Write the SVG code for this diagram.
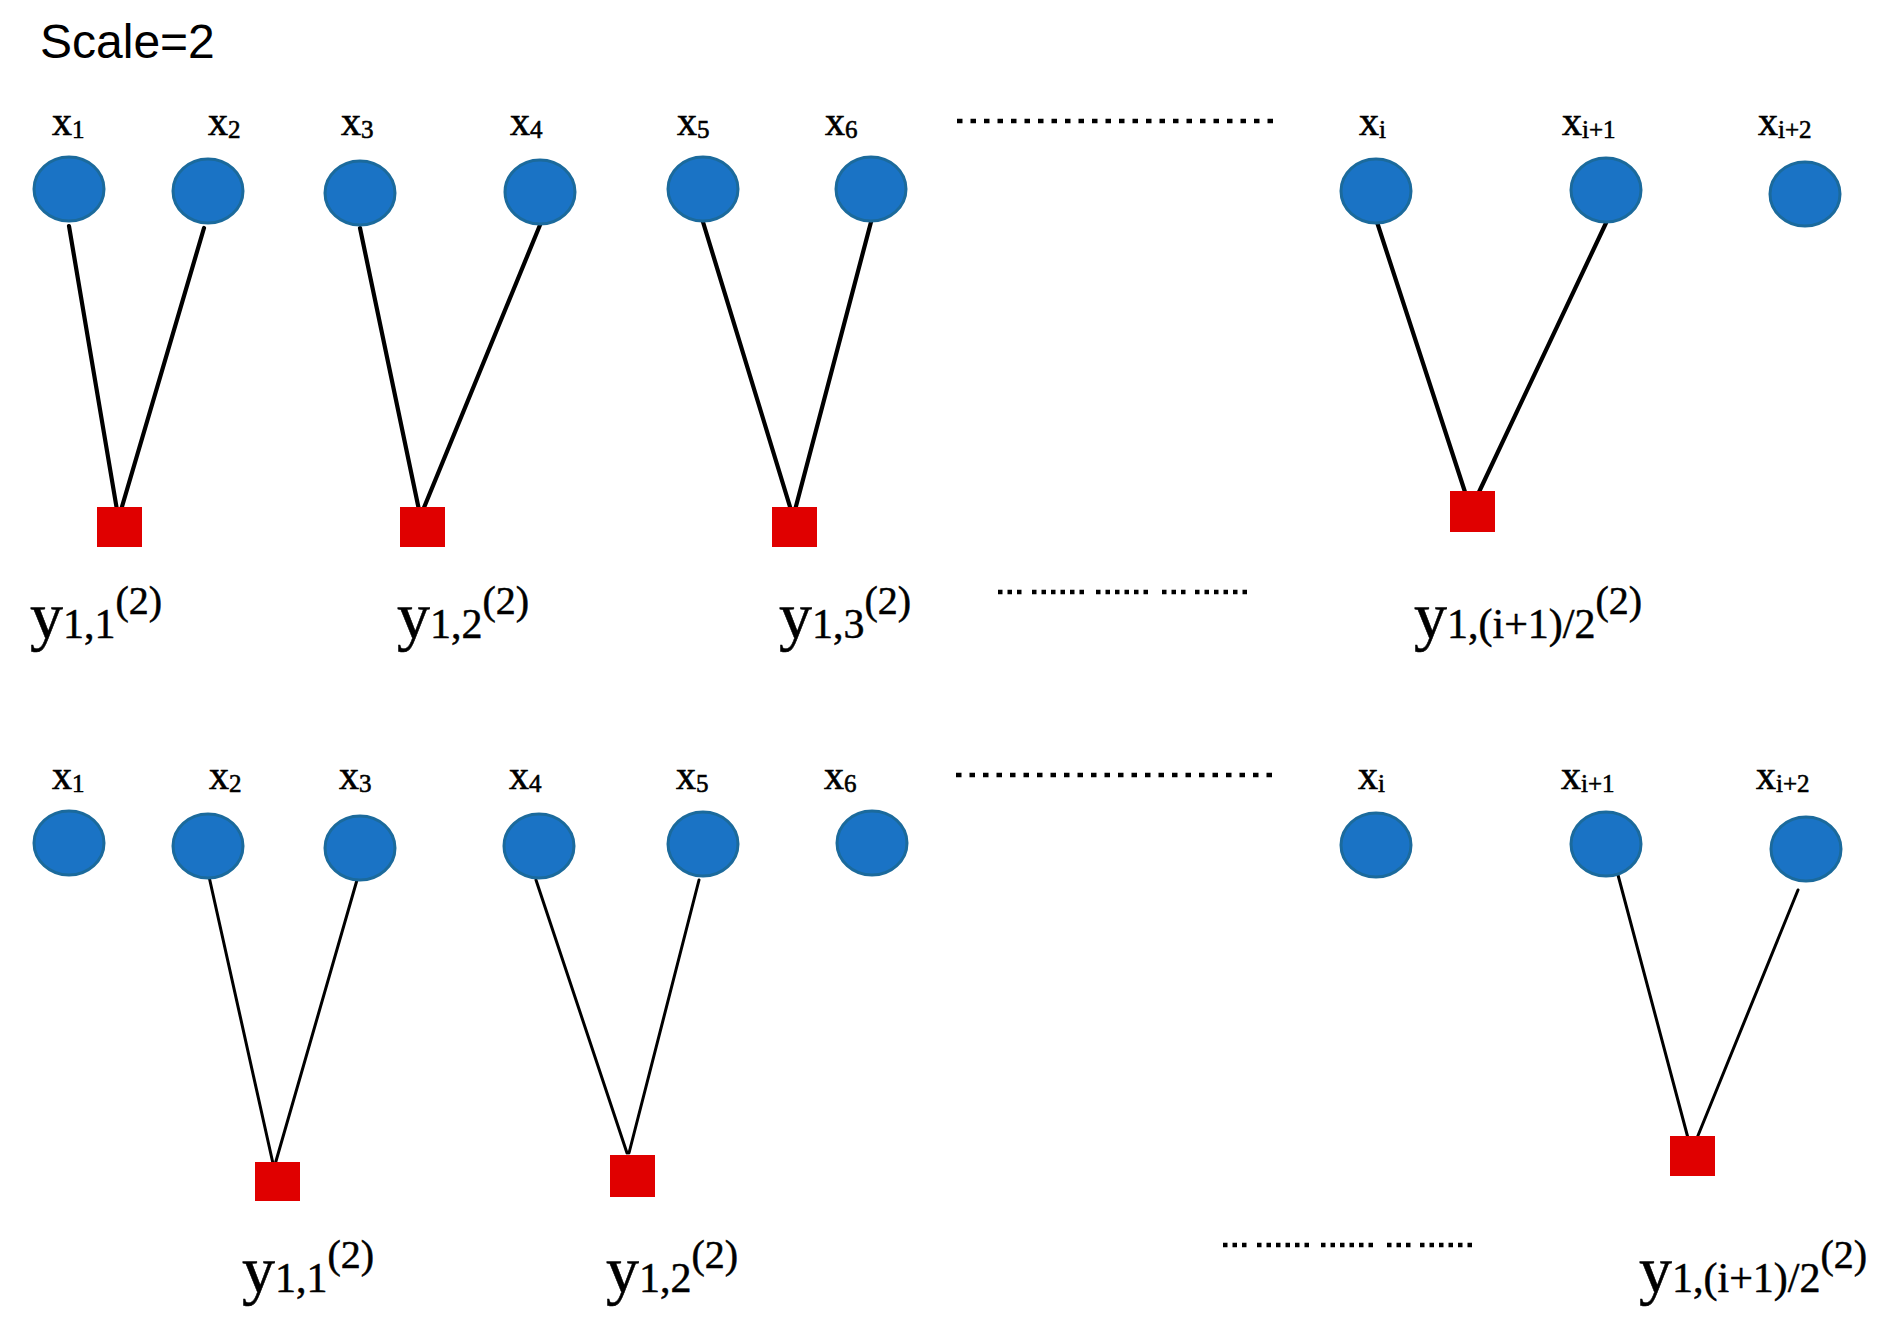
<svg xmlns="http://www.w3.org/2000/svg" width="1885" height="1330" viewBox="0 0 1885 1330">
<style>
.bg{fill:#ffffff}
.node{fill:#1a73c5;stroke:#1b6a9c;stroke-width:3}
.sq{fill:#e00000}
.e1{stroke:#000;stroke-width:4.2;fill:none;stroke-linecap:round}
.e2{stroke:#000;stroke-width:3;fill:none;stroke-linecap:round}
.dots{stroke:#000;stroke-width:4.5;stroke-dasharray:5.5 8;fill:none}
.dots2{stroke:#000;stroke-width:4.5;stroke-dasharray:4.5 5;fill:none}
.title{font-family:"Liberation Sans",Arial,sans-serif;font-size:48px;fill:#000}
.xl{font-family:"Liberation Serif","Times New Roman",serif;font-size:40px;fill:#000;stroke:#000;stroke-width:0.6}
.sub{font-size:25px}
.yl{font-family:"Liberation Serif","Times New Roman",serif;font-size:66px;fill:#000;stroke:#000;stroke-width:0.5}
.ys{font-size:42px}
.sup{font-size:40px}
</style>
<defs>
<g id="ell">
<line class="dots2" x1="0" y1="0" x2="24" y2="0"/>
<line class="dots2" x1="34" y1="0" x2="90" y2="0"/>
<line class="dots2" x1="98" y1="0" x2="155" y2="0"/>
<line class="dots2" x1="164" y1="0" x2="188" y2="0"/>
<line class="dots2" x1="197" y1="0" x2="251" y2="0"/>
</g>
</defs>
<rect class="bg" x="0" y="0" width="1885" height="1330"/>
<text class="title" x="40" y="58">Scale=2</text>

<g id="connectors">
<line class="e1" x1="69" y1="226" x2="117" y2="510"/>
<line class="e1" x1="204" y1="228" x2="121" y2="510"/>
<line class="e1" x1="360" y1="228" x2="419" y2="510"/>
<line class="e1" x1="540" y1="225" x2="423" y2="510"/>
<line class="e1" x1="703" y1="222" x2="791" y2="510"/>
<line class="e1" x1="871" y1="222" x2="795" y2="510"/>
<line class="e1" x1="1376" y1="219" x2="1465" y2="492"/>
<line class="e1" x1="1606" y1="223" x2="1479" y2="492"/>
<line class="e2" x1="208" y1="872" x2="274" y2="1168"/>
<line class="e2" x1="357" y1="880" x2="274" y2="1168"/>
<line class="e2" x1="536" y1="880" x2="627" y2="1153"/>
<line class="e2" x1="699" y1="880" x2="629" y2="1153"/>
<line class="e2" x1="1618" y1="875" x2="1688" y2="1138"/>
<line class="e2" x1="1798" y1="890" x2="1697" y2="1138"/>
</g>

<g id="row1-inputs">
<g id="r1x1"><ellipse class="node" cx="69" cy="189" rx="35" ry="32"/><text class="xl" x="52" y="135">x<tspan class="sub" dy="3">1</tspan></text></g>
<g id="r1x2"><ellipse class="node" cx="208" cy="191" rx="35" ry="32"/><text class="xl" x="208" y="135">x<tspan class="sub" dy="3">2</tspan></text></g>
<g id="r1x3"><ellipse class="node" cx="360" cy="193" rx="35" ry="32"/><text class="xl" x="341" y="135">x<tspan class="sub" dy="3">3</tspan></text></g>
<g id="r1x4"><ellipse class="node" cx="540" cy="192" rx="35" ry="32"/><text class="xl" x="510" y="135">x<tspan class="sub" dy="3">4</tspan></text></g>
<g id="r1x5"><ellipse class="node" cx="703" cy="189" rx="35" ry="32"/><text class="xl" x="677" y="135">x<tspan class="sub" dy="3">5</tspan></text></g>
<g id="r1x6"><ellipse class="node" cx="871" cy="189" rx="35" ry="32"/><text class="xl" x="825" y="135">x<tspan class="sub" dy="3">6</tspan></text></g>
<g id="r1xi"><ellipse class="node" cx="1376" cy="191" rx="35" ry="32"/><text class="xl" x="1359" y="135">x<tspan class="sub" dy="3">i</tspan></text></g>
<g id="r1xi1"><ellipse class="node" cx="1606" cy="190" rx="35" ry="32"/><text class="xl" x="1562" y="135">x<tspan class="sub" dy="3">i+1</tspan></text></g>
<g id="r1xi2"><ellipse class="node" cx="1805" cy="194" rx="35" ry="32"/><text class="xl" x="1758" y="135">x<tspan class="sub" dy="3">i+2</tspan></text></g>
</g>

<g id="row1-dots"><line class="dots" x1="957" y1="121" x2="1274" y2="121"/><use href="#ell" x="998" y="592"/></g>

<g id="row1-outputs">
<g id="r1y1"><rect class="sq" x="97" y="507" width="45" height="40"/><text class="yl" x="30" y="638">y<tspan class="ys">1,1</tspan><tspan class="sup" dy="-24">(2)</tspan></text></g>
<g id="r1y2"><rect class="sq" x="400" y="507" width="45" height="40"/><text class="yl" x="397" y="638">y<tspan class="ys">1,2</tspan><tspan class="sup" dy="-24">(2)</tspan></text></g>
<g id="r1y3"><rect class="sq" x="772" y="507" width="45" height="40"/><text class="yl" x="779" y="638">y<tspan class="ys">1,3</tspan><tspan class="sup" dy="-24">(2)</tspan></text></g>
<g id="r1yn"><rect class="sq" x="1450" y="491" width="45" height="41"/><text class="yl" x="1414" y="638">y<tspan class="ys">1,(i+1)/2</tspan><tspan class="sup" dy="-24">(2)</tspan></text></g>
</g>

<g id="row2-inputs">
<g id="r2x1"><ellipse class="node" cx="69" cy="843" rx="35" ry="32"/><text class="xl" x="52" y="789">x<tspan class="sub" dy="3">1</tspan></text></g>
<g id="r2x2"><ellipse class="node" cx="208" cy="846" rx="35" ry="32"/><text class="xl" x="209" y="789">x<tspan class="sub" dy="3">2</tspan></text></g>
<g id="r2x3"><ellipse class="node" cx="360" cy="848" rx="35" ry="32"/><text class="xl" x="339" y="789">x<tspan class="sub" dy="3">3</tspan></text></g>
<g id="r2x4"><ellipse class="node" cx="539" cy="846" rx="35" ry="32"/><text class="xl" x="509" y="789">x<tspan class="sub" dy="3">4</tspan></text></g>
<g id="r2x5"><ellipse class="node" cx="703" cy="844" rx="35" ry="32"/><text class="xl" x="676" y="789">x<tspan class="sub" dy="3">5</tspan></text></g>
<g id="r2x6"><ellipse class="node" cx="872" cy="843" rx="35" ry="32"/><text class="xl" x="824" y="789">x<tspan class="sub" dy="3">6</tspan></text></g>
<g id="r2xi"><ellipse class="node" cx="1376" cy="845" rx="35" ry="32"/><text class="xl" x="1358" y="789">x<tspan class="sub" dy="3">i</tspan></text></g>
<g id="r2xi1"><ellipse class="node" cx="1606" cy="844" rx="35" ry="32"/><text class="xl" x="1561" y="789">x<tspan class="sub" dy="3">i+1</tspan></text></g>
<g id="r2xi2"><ellipse class="node" cx="1806" cy="849" rx="35" ry="32"/><text class="xl" x="1756" y="789">x<tspan class="sub" dy="3">i+2</tspan></text></g>
</g>

<g id="row2-dots"><line class="dots" x1="956" y1="775" x2="1275" y2="775"/><use href="#ell" x="1223" y="1245"/></g>

<g id="row2-outputs">
<g id="r2y1"><rect class="sq" x="255" y="1162" width="45" height="39"/><text class="yl" x="242" y="1292">y<tspan class="ys">1,1</tspan><tspan class="sup" dy="-24">(2)</tspan></text></g>
<g id="r2y2"><rect class="sq" x="610" y="1155" width="45" height="42"/><text class="yl" x="606" y="1292">y<tspan class="ys">1,2</tspan><tspan class="sup" dy="-24">(2)</tspan></text></g>
<g id="r2yn"><rect class="sq" x="1670" y="1136" width="45" height="40"/><text class="yl" x="1639" y="1292">y<tspan class="ys">1,(i+1)/2</tspan><tspan class="sup" dy="-24">(2)</tspan></text></g>
</g>
</svg>
